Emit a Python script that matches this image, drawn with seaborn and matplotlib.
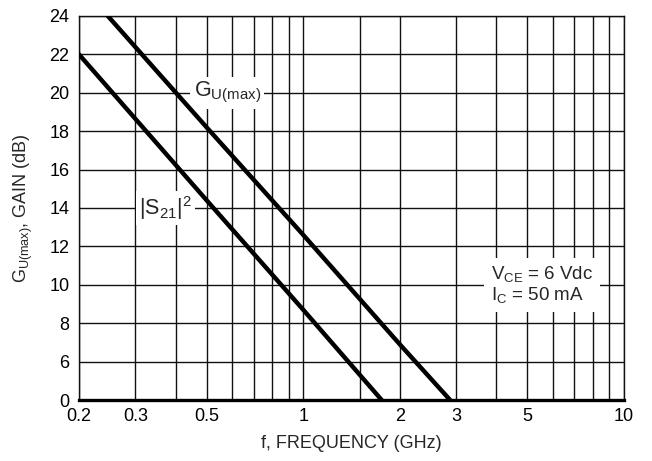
import matplotlib
matplotlib.use("Agg")
import matplotlib.pyplot as plt
import seaborn as sns
import pandas as pd
from matplotlib.ticker import FixedLocator, NullLocator, FixedFormatter

# ---- data ----
gu_freq = [0.246, 0.5, 1.0, 2.0, 2.87]
gu_gain = [24.0, 18.2, 12.6, 6.9, 4.0]        # axis units (bottom gridline labelled "0")
s21_freq = [0.2, 0.5, 1.0, 1.756]
s21_gain = [22.0, 14.4, 8.7, 4.0]

x_ticks = [0.2, 0.3, 0.5, 1, 2, 3, 5, 10]
x_tick_labels = ["0.2", "0.3", "0.5", "1", "2", "3", "5", "10"]
x_grid = [0.2, 0.3, 0.4, 0.5, 0.6, 0.7, 0.8, 0.9, 1, 1.5, 2, 3, 4, 5, 6, 7, 8, 9, 10]
y_ticks = [4, 6, 8, 10, 12, 14, 16, 18, 20, 22, 24]
y_tick_labels = ["0", "6", "8", "10", "12", "14", "16", "18", "20", "22", "24"]

df = pd.concat([
    pd.DataFrame({"f": gu_freq, "gain": gu_gain, "curve": "Gu"}),
    pd.DataFrame({"f": s21_freq, "gain": s21_gain, "curve": "S21"}),
])

sns.set_style("white")
plt.rcParams["font.family"] = ["Liberation Sans", "DejaVu Sans"]
plt.rcParams["mathtext.fontset"] = "custom"
plt.rcParams["mathtext.rm"] = "Liberation Sans"
plt.rcParams["mathtext.it"] = "Liberation Sans"

fig = plt.figure(figsize=(6.52, 4.61), dpi=100)
ax = fig.add_axes([79 / 652, 1 - 400 / 461, (624 - 79) / 652, (400 - 16) / 461])

ax.set_xscale("log")
ax.set_xlim(0.2, 10)
ax.set_ylim(4, 24)

# grid
for xv in x_grid:
    ax.axvline(xv, color="#111111", lw=1.0, zorder=1)
for yv in y_ticks:
    ax.axhline(yv, color="#111111", lw=1.0, zorder=1)

sns.lineplot(data=df, x="f", y="gain", units="curve", estimator=None,
             color="black", lw=3.2, ax=ax, legend=False, zorder=5, sort=False)

ax.xaxis.set_major_locator(FixedLocator(x_ticks))
ax.xaxis.set_major_formatter(FixedFormatter(x_tick_labels))
ax.xaxis.set_minor_locator(NullLocator())
ax.yaxis.set_major_locator(FixedLocator(y_ticks))
ax.yaxis.set_major_formatter(FixedFormatter(y_tick_labels))
ax.tick_params(axis="both", length=0, labelsize=13, colors="black")
ax.tick_params(axis="x", pad=6)
ax.tick_params(axis="y", pad=7)

for s in ["top", "right", "left"]:
    ax.spines[s].set_visible(True)
    ax.spines[s].set_color("#111111")
    ax.spines[s].set_linewidth(1.0)
ax.spines["bottom"].set_color("black")
ax.spines["bottom"].set_linewidth(2.4)
ax.spines["bottom"].set_zorder(6)

ax.set_xlabel("f, FREQUENCY (GHz)", fontsize=13, labelpad=7)
ax.set_ylabel(r"$\mathregular{G_{U(max)}}$, GAIN (dB)", fontsize=13, labelpad=10)

bbox = dict(boxstyle="square,pad=0.15", fc="white", ec="none")
ax.text(0.58, 20, r"$\mathregular{G_{U(max)}}$", fontsize=15.5, ha="center", va="center",
        bbox=bbox, zorder=4)
ax.text(0.372, 14, r"$\mathregular{|S_{21}|^2}$", fontsize=15.5, ha="center", va="center",
        bbox=bbox, zorder=4)
ax.text(3.85, 10, "$\\mathregular{V_{CE}}$ = 6 Vdc\n$\\mathregular{I_C}$ = 50 mA", fontsize=13.5,
        ha="left", va="center", multialignment="left", linespacing=1.05,
        bbox=dict(boxstyle="square,pad=0.35", fc="white", ec="none"), zorder=4)

fig.savefig("out.png", dpi=100)
